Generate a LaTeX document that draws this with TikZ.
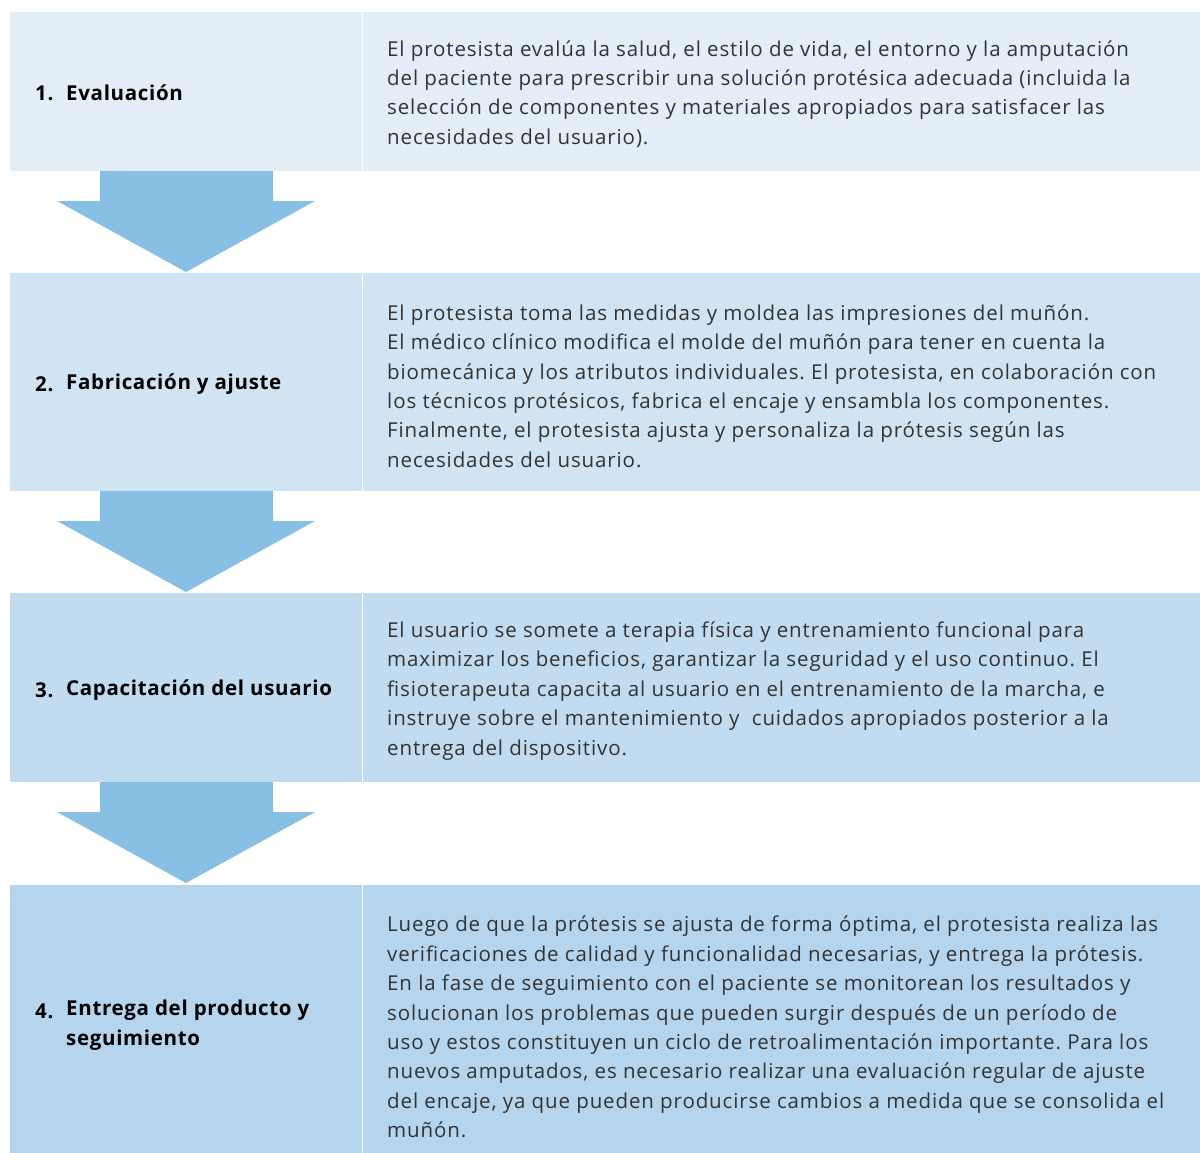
\documentclass[tikz,border=0pt]{standalone}
\usepackage{fontspec}
\setmainfont{Open Sans}[LetterSpace=3.3]
\frenchspacing
\definecolor{rowA}{HTML}{E3EEF8}
\definecolor{rowB}{HTML}{D1E4F3}
\definecolor{rowC}{HTML}{C1DCF1}
\definecolor{rowD}{HTML}{B5D5EF}
\definecolor{arrowblue}{HTML}{88C0E5}
\definecolor{bodytext}{HTML}{333333}
\begin{document}
\begin{tikzpicture}[x=1pt,y=-1pt,
  body/.style={anchor=west,align=left,text=bodytext,font=\fontsize{20.5}{29.4}\selectfont\addfontfeature{LetterSpace=4.3},inner sep=0pt},
  num/.style={anchor=west,font=\fontsize{20.5}{29.4}\selectfont\bfseries,inner sep=0pt,text=black},
  lbl/.style={anchor=west,align=left,font=\fontsize{20.5}{29.4}\selectfont\bfseries,inner sep=0pt,text=black},
  flow/.style={fill=arrowblue,draw=none}]
\useasboundingbox (0,0) rectangle (1200,1153);
% rows
\fill[rowA] (10,12) rectangle (1200,171);
\fill[rowB] (10,273) rectangle (1200,491);
\fill[rowC] (10,593) rectangle (1200,782);
\fill[rowD] (10,885) rectangle (1200,1153);
% separators
\foreach \ya/\yb in {12/171,273/491,593/782,885/1153}
  \fill[white] (361.8,\ya) rectangle (363.2,\yb);
% arrows
\foreach \t in {171,491,782}
  \fill[flow] (100,\t) -- (273,\t) -- (273,\t+30) -- (315,\t+30) -- (186,\t+101) -- (57,\t+30) -- (100,\t+30) -- cycle;
% labels
\node[num] (n1) at (35,93) {1.};
\node[lbl] (l1) at (66,93) {Evaluación};
\node[num] (n2) at (35,384) {2.};
\node[lbl] (l2) at (66,384) {Fabricación y ajuste};
\node[num] (n3) at (35,690) {3.};
\node[lbl] (l3) at (66,690) {Capacitación del usuario};
\node[num,anchor=base west] (n4) at (35,1018) {4.};
\node[lbl,anchor=north west] (l4) at (66,1000) {Entrega del producto y\\seguimiento};
% body texts
\node[body] (b1) at (387,94) {El protesista evalúa la salud, el estilo de vida, el entorno y la amputación\\del paciente para prescribir una solución protésica adecuada (incluida la\\selección de componentes y materiales apropiados para satisfacer las\\necesidades del usuario).};
\node[body] (b2) at (387,386) {El protesista toma las medidas y moldea las impresiones del muñón.\\El médico clínico modifica el molde del muñón para tener en cuenta la\\biomecánica y los atributos individuales. El protesista, en colaboración con\\los técnicos protésicos, fabrica el encaje y ensambla los componentes.\\Finalmente, el protesista ajusta y personaliza la prótesis según las\\necesidades del usuario.};
\node[body] (b3) at (387,691) {El usuario se somete a terapia física y entrenamiento funcional para\\maximizar los beneficios, garantizar la seguridad y el uso continuo. El\\fisioterapeuta capacita al usuario en el entrenamiento de la marcha, e\\instruye sobre el mantenimiento y\ \ cuidados apropiados posterior a la\\entrega del dispositivo.};
\node[body] (b4) at (387,1027) {Luego de que la prótesis se ajusta de forma óptima, el protesista realiza las\\verificaciones de calidad y funcionalidad necesarias, y entrega la prótesis.\\En la fase de seguimiento con el paciente se monitorean los resultados y\\solucionan los problemas que pueden surgir después de un período de\\uso y estos constituyen un ciclo de retroalimentación importante. Para los\\nuevos amputados, es necesario realizar una evaluación regular de ajuste\\del encaje, ya que pueden producirse cambios a medida que se consolida el\\muñón.};
\end{tikzpicture}
\end{document}
